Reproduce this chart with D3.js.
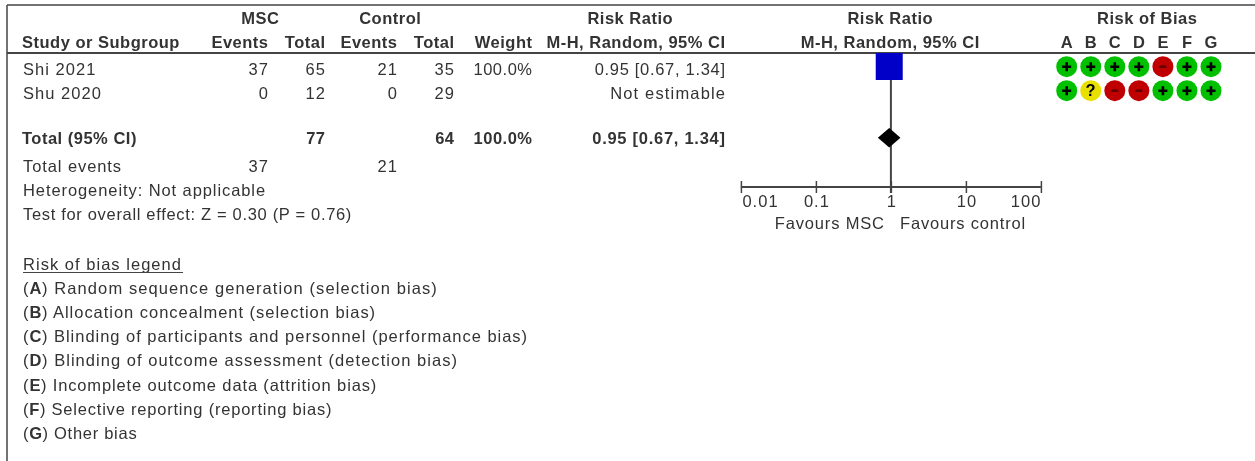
<!DOCTYPE html>
<html><head><meta charset="utf-8">
<script src="https://cdnjs.cloudflare.com/ajax/libs/d3/7.8.5/d3.min.js"></script>
<style>html,body{margin:0;padding:0;background:#fff}svg{display:block;filter:blur(0.35px)}
text{font-family:"Liberation Sans",Arial,sans-serif;font-size:16.5px;fill:#333;letter-spacing:1.03px}
.b{font-weight:bold;letter-spacing:0.5px}
tspan.b{letter-spacing:0.5px}</style></head><body><svg id="c" width="1255" height="461"></svg>
<script>
const studies=["Shi 2021","Shu 2020"];
const mscEvents=[37,0], mscTotal=[65,12], ctlEvents=[21,0], ctlTotal=[35,29];
const weights=["100.0%",""];
const effects=["0.95 [0.67, 1.34]","Not estimable"];
const rr=[0.95,null], rrWeight=[100,0];
const pooled={rr:0.95,lo:0.67,hi:1.34};
const axisTicks=[0.01,0.1,1,10,100];
const domains=["A","B","C","D","E","F","G"];
const bias=[["+","+","+","+","-","+","+"],["+","?","-","-","+","+","+"]];
const legend=[["A","Random sequence generation (selection bias)"],["B","Allocation concealment (selection bias)"],["C","Blinding of participants and personnel (performance bias)"],["D","Blinding of outcome assessment (detection bias)"],["E","Incomplete outcome data (attrition bias)"],["F","Selective reporting (reporting bias)"],["G","Other bias"]];
const svg=d3.select("#c");
const T=(x,y,s,a="start",b=false)=>{const ls=b?0.5:1.03;const dx=a==="end"?ls:a==="middle"?ls/2:0;return svg.append("text").attr("x",x+dx).attr("y",y).attr("text-anchor",a).attr("class",b?"b":null).text(s);};
const fit=(sel,w)=>{const n=sel.node();const old=parseFloat(getComputedStyle(n).letterSpacing)||0;const chars=n.textContent.length;const ls=old+(w-(n.getComputedTextLength()-old))/chars;sel.style("letter-spacing",ls+"px");if(sel.attr("text-anchor")==="end")sel.attr("x",+sel.attr("x")-old+ls);return sel;};
const L=(x1,y1,x2,y2,w=2)=>svg.append("line").attr("x1",x1).attr("y1",y1).attr("x2",x2).attr("y2",y2).attr("stroke","#444").attr("stroke-width",w);
L(7,5,1255,5,1.5);L(7,5,7,461,1.5);L(7,53,1255,53,2);
T(260,24,"MSC","middle",true);T(390,24,"Control","middle",true);T(630,24,"Risk Ratio","middle",true);T(890,24,"Risk Ratio","middle",true);T(1147,24,"Risk of Bias","middle",true);
T(22,48,"Study or Subgroup","start",true);T(268,48,"Events","end",true);T(325,48,"Total","end",true);T(397,48,"Events","end",true);T(454,48,"Total","end",true);T(532,48,"Weight","end",true);T(725,48,"M-H, Random, 95% CI","end",true);T(890,48,"M-H, Random, 95% CI","middle",true);
const rowY=d3.scaleOrdinal().domain(studies).range([75,99]);
const effectW=[130,115];
studies.forEach((s,i)=>{const y=rowY(s);T(23,y,s);T(268,y,mscEvents[i],"end");T(325,y,mscTotal[i],"end");T(397,y,ctlEvents[i],"end");T(454,y,ctlTotal[i],"end");if(weights[i])fit(T(532,y,weights[i],"end"),58);fit(T(725,y,effects[i],"end"),effectW[i]);});
T(22,144,"Total (95% CI)","start",true);T(325,144,d3.sum(mscTotal),"end",true);T(454,144,d3.sum(ctlTotal),"end",true);T(532,144,"100.0%","end",true);fit(T(725,144,"0.95 [0.67, 1.34]","end",true),133);
fit(T(23,172,"Total events"),98);T(268,172,d3.sum(mscEvents),"end");T(397,172,d3.sum(ctlEvents),"end");
fit(T(23,196,"Heterogeneity: Not applicable"),242);fit(T(23,220,"Test for overall effect: Z = 0.30 (P = 0.76)"),328);
const x=d3.scaleLog().domain([0.01,100]).range([740.9,1040.9]);
const axisG=svg.append("g").attr("transform","translate(0,187)");
axisG.call(d3.axisBottom(x).tickValues(axisTicks).tickFormat(d=>String(d)).tickSize(6).tickPadding(2));
axisG.selectAll(".domain").remove();
axisG.append("line").attr("x1",x(0.01)).attr("x2",x(100)).attr("stroke","#444").attr("stroke-width",2);
axisG.selectAll(".tick line").attr("y1",-6).attr("y2",6).attr("stroke","#444").attr("stroke-width",1.5);
axisG.selectAll(".tick text").attr("font-size",null).attr("font-family",null).attr("fill",null).attr("dy",null).attr("y",20)
 .attr("text-anchor",(d,i)=>i===0?"start":i===axisTicks.length-1?"end":"middle")
 .attr("x",(d,i)=>i===0?1:i===axisTicks.length-1?0:0.5);
L(x(1),53,x(1),193,2);
fit(T(884,229,"Favours MSC","end"),109);fit(T(900,229,"Favours control","start"),125);
const size=d3.scaleSqrt().domain([0,100]).range([0,27]);
studies.forEach((s,i)=>{if(rr[i]==null)return;const w=size(rrWeight[i]);svg.append("rect").attr("x",x(rr[i])-w/2).attr("y",66.5-w/2).attr("width",w).attr("height",w).attr("fill","#0000c8");});
svg.append("path").attr("d",`M${x(pooled.lo)},137.7L${x(pooled.rr)},128L${x(pooled.hi)},137.7L${x(pooled.rr)},147.5Z`).attr("fill","#000");
const bx=d3.scalePoint().domain(domains).range([1066.7,1211]);
domains.forEach(d=>T(bx(d),48,d,"middle",true));
const colors={"+":"#00c000","-":"#c00000","?":"#e8e000"};
bias.forEach((row,i)=>{const y=66.7+i*24;row.forEach((v,j)=>{const cx=bx(domains[j]);svg.append("circle").attr("cx",cx).attr("cy",y).attr("r",10.5).attr("fill",colors[v]);
 if(v==="?"){svg.append("text").attr("x",cx).attr("y",y+5.5).attr("text-anchor","middle").attr("class","b").style("fill","#000").text("?");}
 else{svg.append("path").attr("d",v==="+"?`M${cx-4.5},${y}H${cx+4.5}M${cx},${y-4.5}V${y+4.5}`:`M${cx-3.5},${y}H${cx+3.5}`).attr("stroke",v==="+"?"#000":"#600").attr("stroke-width",2.6).attr("fill","none");}
});});
T(23,270,"Risk of bias legend");L(23,272.5,183,272.5,1.2);
const legendW=[414,352,504,434,353,308,113];
legend.forEach((d,i)=>{const t=svg.append("text").attr("x",23).attr("y",294+i*24.15);t.append("tspan").text("(");t.append("tspan").attr("class","b").text(d[0]);t.append("tspan").text(") "+d[1]);fit(t,legendW[i]);});
</script></body></html>
